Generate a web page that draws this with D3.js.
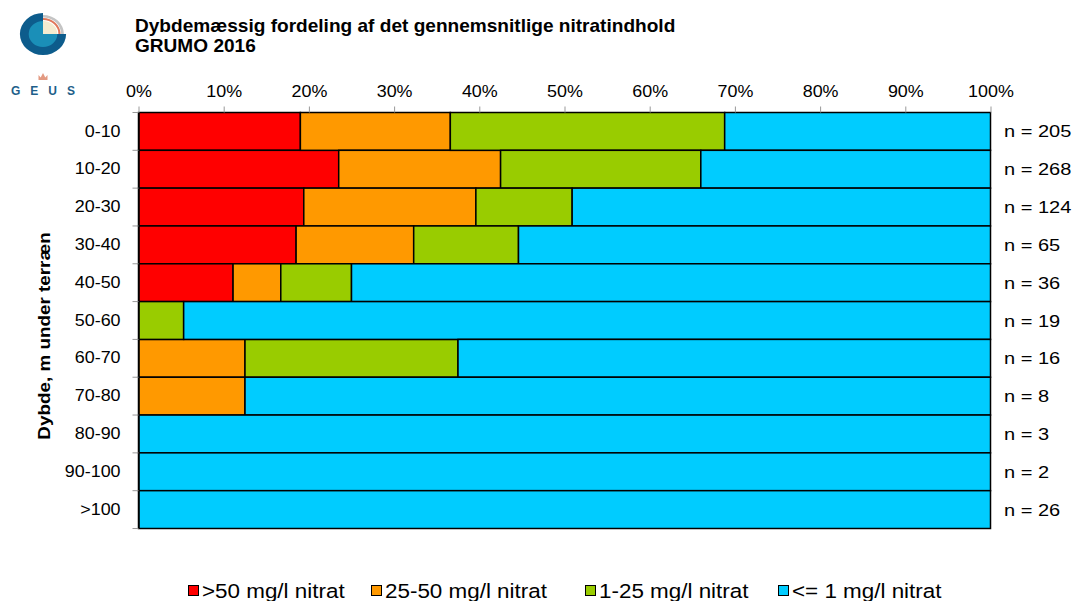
<!DOCTYPE html>
<html>
<head>
<meta charset="utf-8">
<script src="https://cdn.jsdelivr.net/npm/d3@7"></script>
<style>
  body { margin: 0; background: #fff; }
  text { font-family: Arial, "Liberation Sans", sans-serif; }
</style>
</head>
<body>
<div id="chart"></div>
<script>
// depth intervals, m below terrain
var categories = ['0-10', '10-20', '20-30', '30-40', '40-50', '50-60', '60-70', '70-80', '80-90', '90-100', '>100'];
var nCounts = [205, 268, 124, 65, 36, 19, 16, 8, 3, 2, 26];

// share of wells (%) per nitrate class
var over50 =   [19.0, 23.5, 19.4, 18.5, 11.1, 0,    0,    0,    0,   0,   0];
var from25 =   [17.6, 19.0, 20.2, 13.8,  5.6, 0,    12.5, 12.5, 0,   0,   0];
var from1 =    [32.2, 23.5, 11.3, 12.3,  8.3, 5.3,  25.0, 0,    0,   0,   0];
var under1 =   [31.2, 34.0, 49.1, 55.4, 75.0, 94.7, 62.5, 87.5, 100, 100, 100];

var seriesNames = ['>50 mg/l nitrat', '25-50 mg/l nitrat', '1-25 mg/l nitrat', '<= 1 mg/l nitrat'];
var seriesColors = ['#ff0000', '#ff9900', '#99cc00', '#00ccff'];
var xTicks = [0, 10, 20, 30, 40, 50, 60, 70, 80, 90, 100];

var width = 1075,
    height = 601,
    plotLeft = 138.5,
    plotRight = 990.5,
    plotTop = 112.5,
    plotBottom = 528.5,
    stretch = 1.12;

var rows = categories.map(function(c, i) {
  return { cat: c, s0: over50[i], s1: from25[i], s2: from1[i], s3: under1[i] };
});

var svg = d3.select('#chart')
  .append('svg')
  .attr('width', width)
  .attr('height', height);

var x = d3.scaleLinear().domain([0, 100]).range([plotLeft, plotRight]);
var y = d3.scaleBand().domain(categories).range([plotTop, plotBottom]).padding(0);

// logo (GEUS)
var logo = svg.append('g').attr('transform', 'translate(43,34) scale(1.1,1)');
var arc = d3.arc();
logo.append('path')
  .attr('d', arc({ innerRadius: 0, outerRadius: 21, startAngle: Math.PI / 2, endAngle: 2 * Math.PI }))
  .attr('fill', '#0d5c8c');
logo.append('path')
  .attr('d', arc({ innerRadius: 0, outerRadius: 13, startAngle: Math.PI / 2, endAngle: 2 * Math.PI }))
  .attr('fill', '#1a8fb8');
logo.append('path')
  .attr('d', arc({ innerRadius: 0, outerRadius: 13, startAngle: 0, endAngle: Math.PI / 2 }))
  .attr('fill', '#f4ecd0');
logo.append('path')
  .attr('d', arc({ innerRadius: 14, outerRadius: 16, startAngle: 0, endAngle: Math.PI / 2 }))
  .attr('fill', '#e0785a');
logo.append('path')
  .attr('d', arc({ innerRadius: 16.5, outerRadius: 19, startAngle: 0, endAngle: Math.PI / 2 }))
  .attr('fill', '#c4c4c4');
svg.append('path')
  .attr('d', 'M38.5,80 L38.5,75 L40.7,77.5 L43,73 L45.3,77.5 L47.5,75 L47.5,80 Z')
  .attr('fill', '#e39a82');
svg.append('text')
  .attr('x', 48)
  .attr('y', 95)
  .attr('text-anchor', 'middle')
  .attr('font-size', '12px')
  .attr('font-weight', 'bold')
  .attr('letter-spacing', '10px')
  .attr('fill', '#1e5f8a')
  .text('GEUS');

// title
svg.append('text')
  .attr('transform', 'translate(135,32) scale(1.09,1)')
  .attr('font-size', '17.5px')
  .attr('font-weight', 'bold')
  .text('Dybdemæssig fordeling af det gennemsnitlige nitratindhold');
svg.append('text')
  .attr('transform', 'translate(135,52) scale(1.09,1)')
  .attr('font-size', '17.5px')
  .attr('font-weight', 'bold')
  .text('GRUMO 2016');

// bars
var stack = d3.stack().keys(['s0', 's1', 's2', 's3']);
var layers = stack(rows);

svg.selectAll('g.layer')
  .data(layers)
  .enter()
  .append('g')
  .attr('class', 'layer')
  .attr('fill', function(d, i) { return seriesColors[i]; })
  .selectAll('rect')
  .data(function(d) { return d.filter(function(p) { return p[1] - p[0] > 0; }); })
  .enter()
  .append('rect')
  .attr('x', function(d) { return x(d[0]); })
  .attr('y', function(d) { return y(d.data.cat); })
  .attr('width', function(d) { return x(d[1]) - x(d[0]); })
  .attr('height', y.bandwidth())
  .attr('stroke', '#000')
  .attr('stroke-width', 1.5);

// top axis
var xAxis = svg.append('g')
  .attr('transform', 'translate(0,' + plotTop + ')')
  .call(d3.axisTop(x).tickValues(xTicks).tickSize(6).tickFormat(function(d) { return d + '%'; }));
xAxis.select('.domain').remove();
xAxis.selectAll('line').attr('stroke', '#999');
xAxis.selectAll('text')
  .attr('y', -16)
  .attr('dy', 0)
  .attr('font-size', '16px')
  .attr('font-family', 'Arial, "Liberation Sans", sans-serif')
  .attr('fill', '#000')
  .attr('transform', 'scale(' + stretch + ',1)');

// left axis with ticks between the bands
var yAxis = svg.append('g')
  .attr('transform', 'translate(' + plotLeft + ',0)')
  .call(d3.axisLeft(y).tickSize(0).tickPadding(16));
yAxis.select('.domain').attr('stroke', '#000').attr('stroke-width', 1.5);
yAxis.selectAll('text')
  .attr('font-size', '16px')
  .attr('font-family', 'Arial, "Liberation Sans", sans-serif')
  .attr('fill', '#000')
  .attr('transform', 'scale(' + stretch + ',1)');

var bounds = categories.map(function(c) { return y(c); }).concat([plotBottom]);
svg.selectAll('line.ytick')
  .data(bounds)
  .enter()
  .append('line')
  .attr('class', 'ytick')
  .attr('x1', plotLeft - 6)
  .attr('x2', plotLeft)
  .attr('y1', function(d) { return d; })
  .attr('y2', function(d) { return d; })
  .attr('stroke', '#999');

svg.append('text')
  .attr('transform', 'translate(50,336) rotate(-90) scale(1.11,1)')
  .attr('text-anchor', 'middle')
  .attr('font-size', '17px')
  .attr('font-weight', 'bold')
  .text('Dybde, m under terræn');

// n labels
svg.selectAll('text.nlab')
  .data(rows)
  .enter()
  .append('text')
  .attr('class', 'nlab')
  .attr('transform', function(d) {
    return 'translate(1004,' + (y(d.cat) + y.bandwidth() / 2 + 6) + ') scale(1.25,1)';
  })
  .attr('font-size', '16px')
  .text(function(d, i) { return 'n = ' + nCounts[i]; });

// legend
var legendX = [188, 371, 585, 778];
var legend = svg.selectAll('g.legend')
  .data(seriesNames)
  .enter()
  .append('g')
  .attr('class', 'legend')
  .attr('transform', function(d, i) { return 'translate(' + legendX[i] + ',591)'; });
legend.append('rect')
  .attr('x', 0.5)
  .attr('y', -5.5)
  .attr('width', 10)
  .attr('height', 10)
  .attr('fill', function(d, i) { return seriesColors[i]; })
  .attr('stroke', '#000')
  .attr('stroke-width', 1);
legend.append('text')
  .attr('transform', 'translate(14,7) scale(1.15,1)')
  .attr('font-size', '19.5px')
  .text(function(d) { return d; });
</script>
</body>
</html>
